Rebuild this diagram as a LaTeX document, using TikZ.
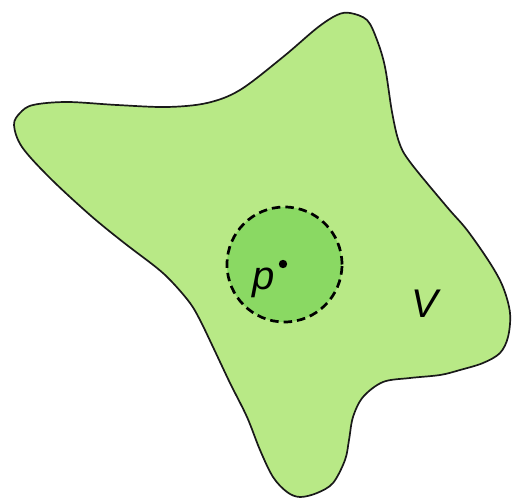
\documentclass[tikz,border=0pt]{standalone}
\usepackage{fontspec}
\setmainfont{Liberation Sans}
\begin{document}
\begin{tikzpicture}[x=1pt,y=-1pt,
  region/.style={draw=black!90, fill=lightgreen, line width=1.7pt},
  nbhd/.style={draw=black, fill=midgreen, line width=2.7pt, dash pattern=on 8.5pt off 5pt},
  lbl/.style={font=\itshape\fontsize{40}{40}\selectfont, inner sep=0pt, anchor=base}]
\definecolor{lightgreen}{HTML}{B8E986}
\definecolor{midgreen}{HTML}{8AD963}
\useasboundingbox (0,0) rectangle (518,502);
\draw[region] plot[smooth cycle, tension=0.55] coordinates {
 (350,13) (367,20) (377,40) (385,67) (392,112) (399,142) (410,162) (447,207)
 (467,230) (490,263) (503,287) (510,313) (508,337) (500,353) (483,363) (460,370)
 (440,375) (410,378) (383,382) (363,397) (353,417) (349,440) (345,460) (333,483)
 (317,493) (300,497) (287,492) (273,477) (260,450) (247,417) (230,383) (213,347)
 (200,320) (190,303) (173,283) (157,268) (123,242) (90,215) (50,178) (22,147)
 (14,125) (20,113) (33,105) (67,102) (117,105) (167,107) (207,103) (240,90)
 (283,57) (317,28) (337,15)};
\node[nbhd, circle, minimum size=115pt, inner sep=0pt] (nb) at (284.5,264.5) {};
\fill (283,264) circle (4.2pt) coordinate (pt);
\node[lbl] (p) at (263.5,289) {p};
\node[lbl] (v) at (425,317) {V};
\end{tikzpicture}
\end{document}
